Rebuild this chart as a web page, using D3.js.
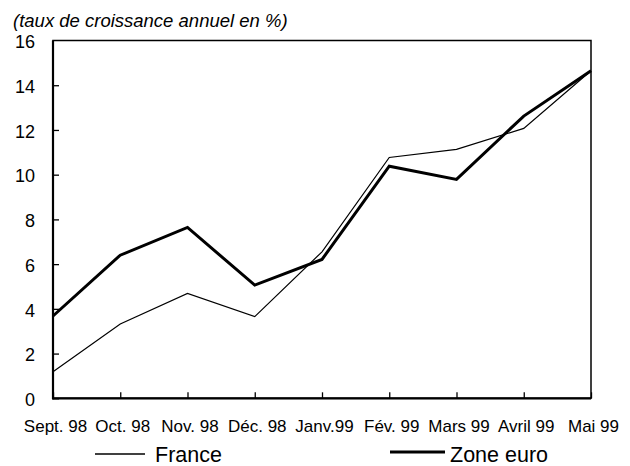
<!DOCTYPE html>
<html><head><meta charset="utf-8">
<script src="https://cdn.jsdelivr.net/npm/d3@7"></script>
<style>body{margin:0;background:#fff}svg{display:block}text{font-family:"Liberation Sans",Arial,sans-serif;fill:#000}</style>
</head><body><svg id="c" width="630" height="466"></svg>
<script>
const categories = ["Sept. 98","Oct. 98","Nov. 98","Déc. 98","Janv.99","Fév. 99","Mars 99","Avril 99","Mai 99"];
const france = [1.19,3.32,4.69,3.65,6.55,10.77,11.13,12.07,14.65];
const zoneEuro = [3.68,6.40,7.64,5.06,6.21,10.38,9.79,12.62,14.65];
const yTicks = [0,2,4,6,8,10,12,14,16];
const seriesNames = ["France","Zone euro"];
const title = "(taux de croissance annuel en %)";

const svg = d3.select("#c");
const L=53,R=591,T=40.5,B=398.3;
const x = d3.scalePoint().domain(categories).range([L,R]);
const y = d3.scaleLinear().domain([0,16]).range([B,T]);

svg.append("text").attr("x",13).attr("y",26.5).attr("font-size","18.5px").attr("font-style","italic").text(title);

const ya = svg.append("g").attr("transform",`translate(${L},0)`)
  .call(d3.axisLeft(y).tickValues(yTicks).tickSize(-6).tickPadding(18).tickFormat(d3.format("d")));
ya.select(".domain").remove();
ya.selectAll("line").attr("stroke","#000").attr("stroke-width",1.3);
ya.selectAll("text").attr("font-size","18px").attr("dy","0.4em").attr("font-family","Liberation Sans, Arial, sans-serif");
ya.selectAll(".tick").filter(d=>d===16).select("line").remove();

const xa = svg.append("g").attr("transform",`translate(0,${B})`)
  .call(d3.axisBottom(x).tickSize(-6).tickPadding(22));
xa.select(".domain").remove();
xa.selectAll("line").attr("stroke","#000").attr("stroke-width",1.3);
xa.selectAll("text").attr("font-size","17px").attr("dx","2").attr("font-family","Liberation Sans, Arial, sans-serif");

// frame
svg.append("rect").attr("x",L).attr("y",T).attr("width",R-L).attr("height",B-T)
  .attr("fill","none").attr("stroke","#000").attr("stroke-width",1.5);
svg.append("line").attr("x1",L).attr("x2",L).attr("y1",T).attr("y2",B+1).attr("stroke","#000").attr("stroke-width",2.2);
svg.append("line").attr("x1",L-1).attr("x2",R).attr("y1",B).attr("y2",B).attr("stroke","#000").attr("stroke-width",2.2);

const line = d3.line().x((d,i)=>x(categories[i])).y(d=>y(d));
svg.append("path").datum(france).attr("d",line).attr("fill","none").attr("stroke","#000").attr("stroke-width",1.2);
svg.append("path").datum(zoneEuro).attr("d",line).attr("fill","none").attr("stroke","#000").attr("stroke-width",3).attr("stroke-linejoin","miter");

// legend
const lg = [{x1:95,x2:145,ly:454,tx:155,w:1.3},{x1:390,x2:445,ly:452,tx:450,w:3.2}];
lg.forEach((g,i)=>{
  svg.append("line").attr("x1",g.x1).attr("x2",g.x2).attr("y1",g.ly).attr("y2",g.ly).attr("stroke","#000").attr("stroke-width",g.w);
  svg.append("text").attr("x",g.tx).attr("y",462).attr("font-size","21.5px").text(seriesNames[i]);
});
</script></body></html>
